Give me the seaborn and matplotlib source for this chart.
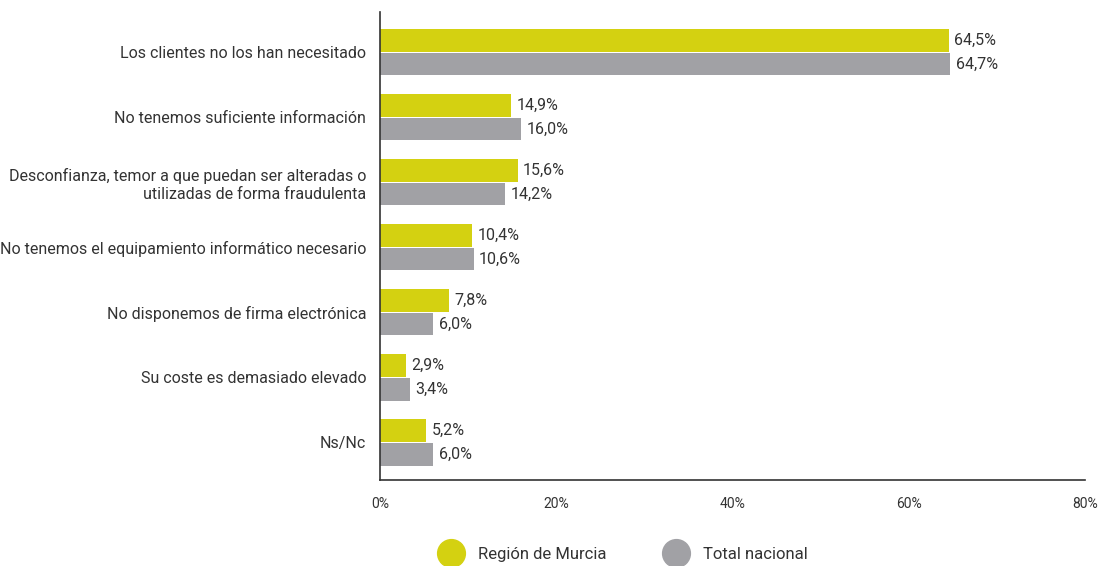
import pandas as pd
import matplotlib.pyplot as plt
import seaborn as sns
from matplotlib.lines import Line2D

categories = [
    "Los clientes no los han necesitado",
    "No tenemos suficiente información",
    "Desconfianza, temor a que puedan ser alteradas o\nutilizadas de forma fraudulenta",
    "No tenemos el equipamiento informático necesario",
    "No disponemos de firma electrónica",
    "Su coste es demasiado elevado",
    "Ns/Nc",
]
murcia = [64.5, 14.9, 15.6, 10.4, 7.8, 2.9, 5.2]
nacional = [64.7, 16.0, 14.2, 10.6, 6.0, 3.4, 6.0]
series = ["Región de Murcia", "Total nacional"]
colors = ["#d4d111", "#a1a1a5"]
ticks = [0, 20, 40, 60, 80]

df = pd.DataFrame({
    "Categoria": categories * 2,
    "Valor": murcia + nacional,
    "Serie": [series[0]] * len(categories) + [series[1]] * len(categories),
})

sns.set_style("white")
plt.rcParams["font.family"] = ["Roboto", "DejaVu Sans"]

fig = plt.figure(figsize=(11.05, 5.66), dpi=100)
ax = fig.add_axes([0.344, 0.152, 0.638, 0.827])

sns.barplot(data=df, y="Categoria", x="Valor", hue="Serie", palette=colors,
            orient="h", width=0.73, gap=0.04, saturation=1, linewidth=0,
            ax=ax, legend=False)

for cont in ax.containers:
    labels = [f"{v:.1f}%".replace(".", ",") for v in cont.datavalues]
    ax.bar_label(cont, labels=labels, padding=4, fontsize=11.5, color="#333333")

ax.set_xlim(0, 80)
ax.set_ylim(6.58, -0.62)
ax.set_xticks(ticks)
ax.set_xticklabels([f"{t}%" for t in ticks], fontsize=10, color="#333333")
ax.tick_params(axis="x", length=0, pad=12)
ax.tick_params(axis="y", length=0, pad=10, labelsize=11.5, labelcolor="#333333")
ax.set_xlabel("")
ax.set_ylabel("")
for t in ax.get_yticklabels():
    t.set_horizontalalignment("right")
    t.set_multialignment("right")

sns.despine(ax=ax)
ax.spines["left"].set_color("#333333")
ax.spines["bottom"].set_color("#333333")
ax.spines["left"].set_linewidth(1.2)
ax.spines["bottom"].set_linewidth(1.2)

handles = [Line2D([0], [0], marker="o", linestyle="", markersize=20,
                  markerfacecolor=c, markeredgecolor=c) for c in colors]
fig.legend(handles, series, loc="lower center", bbox_to_anchor=(0.562, -0.02),
           ncol=2, frameon=False, fontsize=12, columnspacing=3.2,
           handletextpad=0.6, labelcolor="#333333")

fig.savefig("out.png", dpi=100)
